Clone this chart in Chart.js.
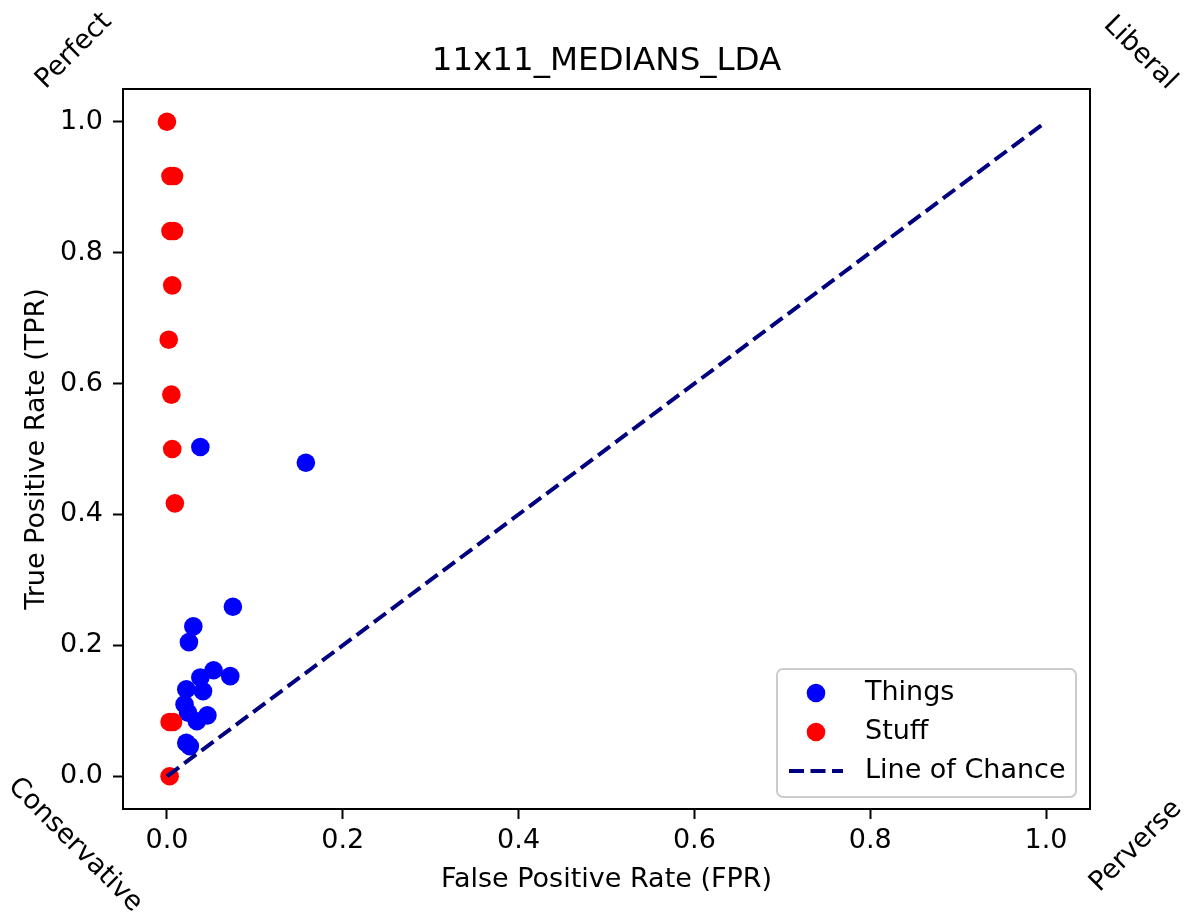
<!DOCTYPE html>
<html>
<head>
<meta charset="utf-8">
<script src="https://cdn.jsdelivr.net/npm/chart.js@4"></script>
<style>
  html, body { margin: 0; padding: 0; background: #fff; }
  #wrap { width: 1186px; height: 912px; }
</style>
</head>
<body>
<div id="wrap"><canvas id="myChart" width="1186" height="912"></canvas></div>
<script>
// ROC points
const thingsFPR = [0.038, 0.158, 0.075, 0.030, 0.025, 0.053, 0.072, 0.038, 0.041, 0.022, 0.020, 0.024, 0.046, 0.034, 0.022, 0.026];
const thingsTPR = [0.503, 0.479, 0.259, 0.229, 0.205, 0.162, 0.153, 0.151, 0.130, 0.133, 0.110, 0.097, 0.093, 0.084, 0.051, 0.046];

const stuffFPR = [0.000, 0.004, 0.008, 0.004, 0.008, 0.006, 0.002, 0.005, 0.006, 0.009, 0.003, 0.007, 0.003];
const stuffTPR = [1.000, 0.917, 0.917, 0.833, 0.833, 0.750, 0.667, 0.583, 0.500, 0.417, 0.083, 0.083, 0.000];

const chanceX = [0, 1];
const chanceY = [0, 1];

const tickValues = [0, 0.2, 0.4, 0.6, 0.8, 1.0];

const chartTitle = "11x11_MEDIANS_LDA";

const cornerLabels = [
  { text: "Perfect", x: 74, y: 51, angle: -45 },
  { text: "Liberal", x: 1140, y: 53, angle: 45 },
  { text: "Conservative", x: 75, y: 845, angle: 45 },
  { text: "Perverse", x: 1136, y: 846, angle: -45 },
];

const FONT = "'DejaVu Sans', sans-serif";

function toPoints(xs, ys) {
  return xs.map((x, i) => ({ x: x, y: ys[i] }));
}

// frame, title, corner texts and legend box like matplotlib
const extras = {
  id: "extras",
  afterDraw(chart) {
    const ctx = chart.ctx;
    const a = chart.chartArea;
    ctx.save();
    ctx.strokeStyle = "#000";
    ctx.lineWidth = 2;
    ctx.strokeRect(a.left, a.top, a.right - a.left, a.bottom - a.top);

    ctx.fillStyle = "#000";
    ctx.textAlign = "center";
    ctx.textBaseline = "middle";
    ctx.font = "32.5px " + FONT;
    ctx.fillText(chartTitle, (a.left + a.right) / 2, 62);

    ctx.font = "27px " + FONT;
    cornerLabels.forEach((c) => {
      ctx.save();
      ctx.translate(c.x, c.y);
      ctx.rotate((c.angle * Math.PI) / 180);
      ctx.fillText(c.text, 0, 0);
      ctx.restore();
    });

    // legend
    const bx = 777, by = 669, bw = 299, bh = 128, r = 6;
    ctx.beginPath();
    ctx.moveTo(bx + r, by);
    ctx.arcTo(bx + bw, by, bx + bw, by + bh, r);
    ctx.arcTo(bx + bw, by + bh, bx, by + bh, r);
    ctx.arcTo(bx, by + bh, bx, by, r);
    ctx.arcTo(bx, by, bx + bw, by, r);
    ctx.closePath();
    ctx.fillStyle = "rgba(255,255,255,0.8)";
    ctx.fill();
    ctx.strokeStyle = "#cccccc";
    ctx.lineWidth = 2;
    ctx.stroke();

    const rows = [693, 732, 771];
    chart.data.datasets.forEach((ds, i) => {
      const y = rows[i];
      if (ds.type === "line") {
        ctx.save();
        ctx.strokeStyle = ds.borderColor;
        ctx.lineWidth = ds.borderWidth;
        ctx.setLineDash(ds.borderDash);
        ctx.beginPath();
        ctx.moveTo(789, y);
        ctx.lineTo(843, y);
        ctx.stroke();
        ctx.restore();
      } else {
        ctx.beginPath();
        ctx.arc(816, y, 9.3, 0, Math.PI * 2);
        ctx.fillStyle = ds.backgroundColor;
        ctx.fill();
      }
      ctx.fillStyle = "#000";
      ctx.textAlign = "left";
      ctx.textBaseline = "middle";
      ctx.font = "27px " + FONT;
      ctx.fillText(ds.label, 865, y);
    });
    ctx.restore();
  },
};

const axisCommon = {
  type: "linear",
  min: -0.05,
  max: 1.05,
  border: { display: false },
  grid: {
    drawOnChartArea: false,
    drawTicks: true,
    tickLength: 10,
    tickWidth: 2,
    tickColor: "#000",
  },
  afterBuildTicks: (scale) => {
    scale.ticks = tickValues.map((v) => ({ value: v }));
  },
};

const cfg = {
  type: "scatter",
  data: {
    datasets: [
      {
        label: "Things",
        data: toPoints(thingsFPR, thingsTPR),
        backgroundColor: "#0000ff",
        borderColor: "#0000ff",
        borderWidth: 0,
        pointRadius: 9.3,
        pointHoverRadius: 9.3,
        order: 3,
      },
      {
        label: "Stuff",
        data: toPoints(stuffFPR, stuffTPR),
        backgroundColor: "#ff0000",
        borderColor: "#ff0000",
        borderWidth: 0,
        pointRadius: 9.3,
        pointHoverRadius: 9.3,
        order: 2,
      },
      {
        type: "line",
        label: "Line of Chance",
        data: toPoints(chanceX, chanceY),
        borderColor: "#000080",
        borderWidth: 4,
        borderDash: [15, 6.5],
        pointRadius: 0,
        fill: false,
        order: 1,
      },
    ],
  },
  options: {
    responsive: false,
    animation: false,
    layout: { padding: { left: 0, right: 96, top: 89, bottom: 0 } },
    plugins: {
      legend: { display: false },
      tooltip: { enabled: false },
      title: { display: false },
    },
    scales: {
      x: {
        ...axisCommon,
        position: "bottom",
        ticks: {
          color: "#000",
          font: { family: FONT, size: 27 },
          padding: 6,
          maxRotation: 0,
          callback: (v) => v.toFixed(1),
        },
        title: {
          display: true,
          text: "False Positive Rate (FPR)",
          color: "#000",
          font: { family: FONT, size: 27 },
          padding: { top: 0, bottom: 16 },
        },
        afterFit: (scale) => {
          scale.height = 103;
        },
      },
      y: {
        ...axisCommon,
        position: "left",
        ticks: {
          color: "#000",
          font: { family: FONT, size: 27 },
          padding: 10,
          callback: (v) => v.toFixed(1),
        },
        title: {
          display: true,
          text: "True Positive Rate (TPR)",
          color: "#000",
          font: { family: FONT, size: 27 },
          padding: { top: 21, bottom: 0 },
        },
        afterFit: (scale) => {
          scale.width = 123;
        },
      },
    },
  },
  plugins: [extras],
};

new Chart(document.getElementById("myChart"), cfg);
</script>
</body>
</html>
